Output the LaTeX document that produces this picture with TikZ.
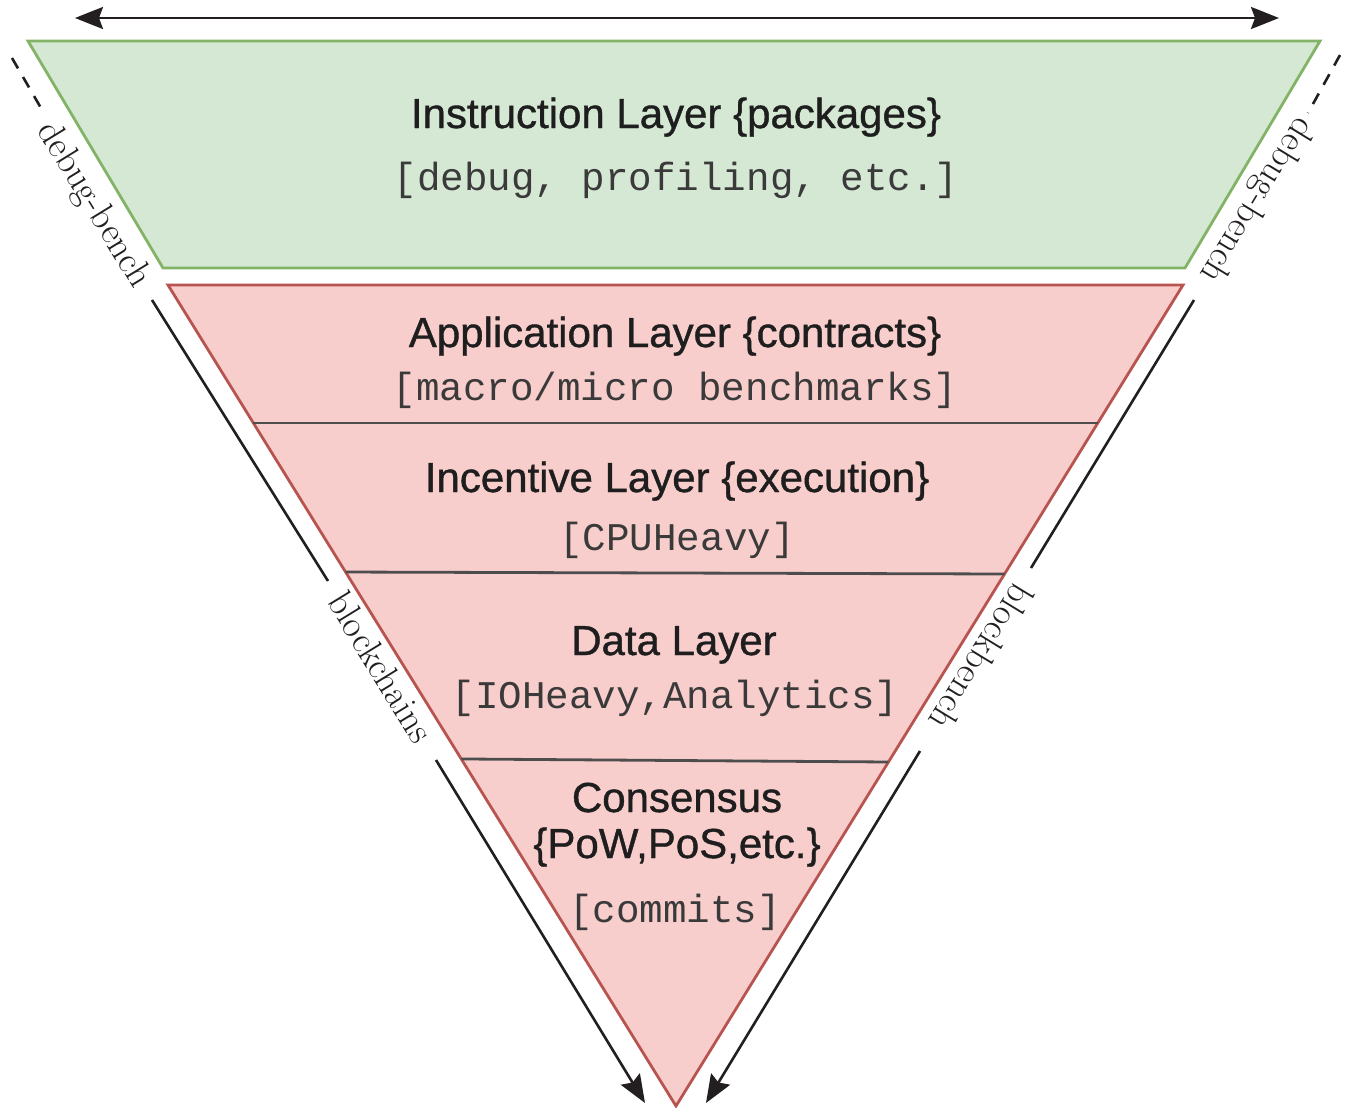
\documentclass[tikz,border=0pt]{standalone}
\usepackage{fontspec}
\newfontfamily\sansf[RawFeature={embolden=0.9}]{Liberation Sans}
\newfontfamily\monof{Liberation Mono}
\usetikzlibrary{arrows.meta,calc}
\definecolor{gfill}{HTML}{D5E8D4}
\definecolor{gline}{HTML}{82B366}
\definecolor{rfill}{HTML}{F8CECC}
\definecolor{rline}{HTML}{B85450}
\definecolor{divc}{HTML}{4D4D4D}
\definecolor{titlec}{HTML}{1E1E1E}
\definecolor{monoc}{HTML}{3A3A3A}
\definecolor{arrc}{HTML}{231F20}
\begin{document}
\begin{tikzpicture}[x=0.5pt,y=-0.5pt,
  title/.style={font=\sansf\fontsize{21}{24}\selectfont, text=titlec, inner sep=0pt, anchor=base},
  mono/.style={font=\monof\fontsize{19.6}{22}\selectfont, text=monoc, inner sep=0pt, anchor=base},
  side/.style={font=\fontsize{18.5}{20}\selectfont, text=arrc, inner sep=0pt, anchor=center},
  divider/.style={draw=divc, line width=1.4pt},
  sideline/.style={draw=arrc, line width=1.3pt},
  tip/.style={Stealth[length=14pt,width=11pt,inset=2pt]},
  sidearrow/.style={draw=arrc, line width=1.3pt, -{Stealth[length=14pt,width=11pt,inset=2pt]}},
  dashline/.style={draw=arrc, line width=1.3pt, dash pattern=on 6pt off 5pt}
]
\useasboundingbox (0,0) rectangle (1349,1108);

% top double arrow
\coordinate (ta) at (75,18);
\coordinate (tb) at (1279,18);
\draw[arrc, line width=1.3pt, {Stealth[length=14pt,width=11pt,inset=2pt]}-{Stealth[length=14pt,width=11pt,inset=2pt]}] (ta) -- (tb);

% green trapezoid
\coordinate (g1) at (28,41);
\coordinate (g2) at (1320,41);
\coordinate (g3) at (1185,268);
\coordinate (g4) at (163,268);
\draw[fill=gfill, draw=gline, line width=1.4pt, line join=miter] (g1) -- (g2) -- (g3) -- (g4) -- cycle;

% red triangle
\coordinate (tl) at (168,285);
\coordinate (tr) at (1183,285);
\coordinate (ap) at (676,1106);
\draw[fill=rfill, draw=rline, line width=1.4pt, line join=miter] (tl) -- (tr) -- (ap) -- cycle;

% dividers
\coordinate (d1l) at ($(tl)!0.168!(ap)$);
\coordinate (d1r) at ($(tr)!0.168!(ap)$);
\coordinate (d2l) at ($(tl)!0.3496!(ap)$);
\coordinate (d2r) at ($(tr)!0.352!(ap)$);
\coordinate (d3l) at ($(tl)!0.5773!(ap)$);
\coordinate (d3r) at ($(tr)!0.581!(ap)$);
\draw[divider] (d1l) -- (d1r);
\draw[divider] (d2l) -- (d2r);
\draw[divider] (d3l) -- (d3r);

% texts
\node[title] (instr) at (676,128) {Instruction Layer \{packages\}};
\node[mono] (instrs) at (676,190) {[debug, profiling, etc.]};
\node[title] (appl) at (675,347) {Application Layer \{contracts\}};
\node[mono] (appls) at (675,400) {[macro/micro benchmarks]};
\node[title] (incl) at (677,492) {Incentive Layer \{execution\}};
\node[mono] (incls) at (677,550) {[CPUHeavy]};
\node[title] (datal) at (674,655) {Data Layer};
\node[mono] (datals) at (675,708) {[IOHeavy,Analytics]};
\node[title] (cons1) at (677,812) {Consensus};
\node[title] (cons2) at (677,858) {\{PoW,PoS,etc.\}};
\node[mono] (conss) at (675,922) {[commits]};

% left side
\coordinate (l0a) at (12,58);
\coordinate (l0b) at (45,115);
\draw[dashline] (l0a) -- (l0b);
\node[side, rotate=-58.5] (ldb) at (93,205) {debug-bench};
\coordinate (l1a) at (152,300);
\coordinate (l1b) at (328,581);
\draw[sideline] (l1a) -- (l1b);
\node[side, rotate=-58.5] (lbc) at (381,667) {blockchains};
\coordinate (l2a) at (436,760);
\coordinate (l2b) at (645,1103);
\draw[sidearrow] (l2a) -- (l2b);

% right side
\coordinate (r0a) at (1340,55);
\coordinate (r0b) at (1308,113);
\draw[dashline] (r0a) -- (r0b);
\node[side, rotate=-121.5] (rdb) at (1256,200) {debug-bench};
\coordinate (r1a) at (1194,300);
\coordinate (r1b) at (1031,568);
\draw[sideline] (r1a) -- (r1b);
\node[side, rotate=-121.5] (rbb) at (982,657) {blockbench};
\coordinate (r2a) at (920,751);
\coordinate (r2b) at (706,1103);
\draw[sidearrow] (r2a) -- (r2b);
\end{tikzpicture}
\end{document}
